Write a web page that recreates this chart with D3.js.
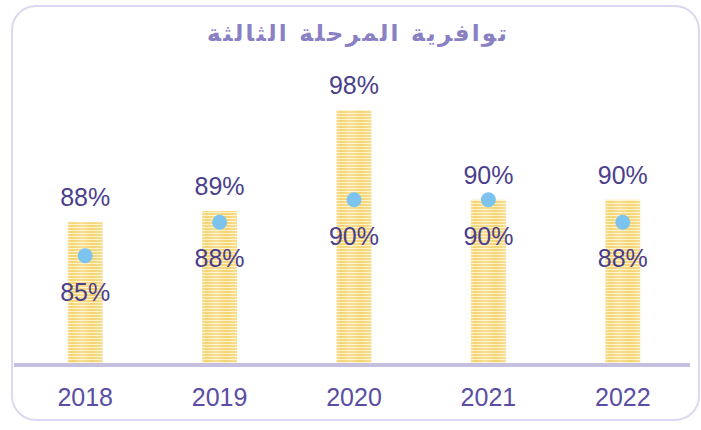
<!DOCTYPE html>
<html><head><meta charset="utf-8">
<script src="https://cdn.jsdelivr.net/npm/d3@7"></script>
<style>
html,body{margin:0;padding:0;background:#fff;}
svg{display:block;}
</style></head>
<body>
<svg id="chart" width="701" height="430"></svg>
<script>
const title = "توافرية المرحلة الثالثة";
const years = ["2018", "2019", "2020", "2021", "2022"];
const barValues = [88, 89, 98, 90, 90];
const dotValues = [85, 88, 90, 90, 88];

const W = 701, H = 430;
const svg = d3.select("#chart");
const defs = svg.append("defs");

// stripe pattern for bars
const pat = defs.append("pattern").attr("id", "stripes")
  .attr("patternUnits", "userSpaceOnUse").attr("width", 8).attr("height", 3);
pat.append("rect").attr("width", 8).attr("height", 3).attr("fill", "#fdf1c8");
pat.append("rect").attr("y", 0).attr("width", 8).attr("height", 2).attr("fill", "#f4d470");

const grad = defs.append("linearGradient").attr("id", "shine").attr("x1", 0).attr("x2", 1).attr("y1", 0).attr("y2", 0);
grad.append("stop").attr("offset", "0%").attr("stop-color", "#fff").attr("stop-opacity", 0.25);
grad.append("stop").attr("offset", "12%").attr("stop-color", "#fff").attr("stop-opacity", 0.0);
grad.append("stop").attr("offset", "40%").attr("stop-color", "#fff").attr("stop-opacity", 0.25);
grad.append("stop").attr("offset", "70%").attr("stop-color", "#fff").attr("stop-opacity", 0.0);
grad.append("stop").attr("offset", "100%").attr("stop-color", "#fff").attr("stop-opacity", 0.25);

// card
svg.append("rect").attr("x", 12).attr("y", 6).attr("width", 687).attr("height", 414)
  .attr("rx", 24).attr("ry", 24).attr("fill", "#fff")
  .attr("stroke", "#dcd8f0").attr("stroke-width", 2);

// title
svg.append("text").attr("x", 357).attr("y", 41)
  .attr("text-anchor", "middle").attr("direction", "rtl")
  .attr("font-family", "'DejaVu Sans', 'Noto Sans', sans-serif")
  .attr("font-weight", "bold").attr("font-size", 23)
  .attr("textLength", 300).attr("lengthAdjust", "spacing")
  .attr("fill", "#8a80c4").text(title);

const x = d3.scaleBand().domain(years).range([18, 690]).paddingInner(0.74).paddingOuter(0.37);
const y = d3.scaleLinear().domain([75.25, 100]).range([365, 365 - 24.75 * 11.2]);

const g = svg.append("g");
const bw = x.bandwidth();

g.selectAll("rect.bar").data(years).join("rect").attr("class", "bar")
  .attr("x", d => x(d)).attr("width", bw)
  .attr("y", (d, i) => y(barValues[i])).attr("height", (d, i) => y.range()[0] - y(barValues[i]))
  .attr("fill", "url(#stripes)");
g.selectAll("rect.shine").data(years).join("rect").attr("class", "shine")
  .attr("x", d => x(d)).attr("width", bw)
  .attr("y", (d, i) => y(barValues[i])).attr("height", (d, i) => y.range()[0] - y(barValues[i]))
  .attr("fill", "url(#shine)");

// axis line
const axis = d3.axisBottom(x).tickSize(0).tickPadding(23);
const ax = svg.append("g").attr("transform", `translate(0,${y.range()[0]})`).call(axis);
ax.select(".domain").attr("d", "M14,0H690").attr("stroke", "#c5bfe0").attr("stroke-width", 4);
ax.selectAll(".tick text")
  .attr("font-family", "'Liberation Sans', Arial, sans-serif")
  .attr("font-size", 25).attr("fill", "#5a4ea3").attr("dy", "0.71em");

// dots
g.selectAll("circle.dot").data(years).join("circle").attr("class", "dot")
  .attr("cx", d => x(d) + bw / 2).attr("cy", (d, i) => y(dotValues[i]))
  .attr("r", 7.5).attr("fill", "#7cc3ef");

const fmt = v => v + "%";
g.selectAll("text.blab").data(years).join("text").attr("class", "blab")
  .attr("x", d => x(d) + bw / 2).attr("y", (d, i) => y(barValues[i]) - 16)
  .attr("text-anchor", "middle")
  .attr("font-family", "'Liberation Sans', Arial, sans-serif")
  .attr("font-size", 25).attr("fill", "#4b3f8c")
  .text((d, i) => fmt(barValues[i]));

g.selectAll("text.dlab").data(years).join("text").attr("class", "dlab")
  .attr("x", d => x(d) + bw / 2).attr("y", (d, i) => y(dotValues[i]) + 45)
  .attr("text-anchor", "middle")
  .attr("font-family", "'Liberation Sans', Arial, sans-serif")
  .attr("font-size", 25).attr("fill", "#4b3f8c")
  .text((d, i) => fmt(dotValues[i]));
</script>
</body></html>
